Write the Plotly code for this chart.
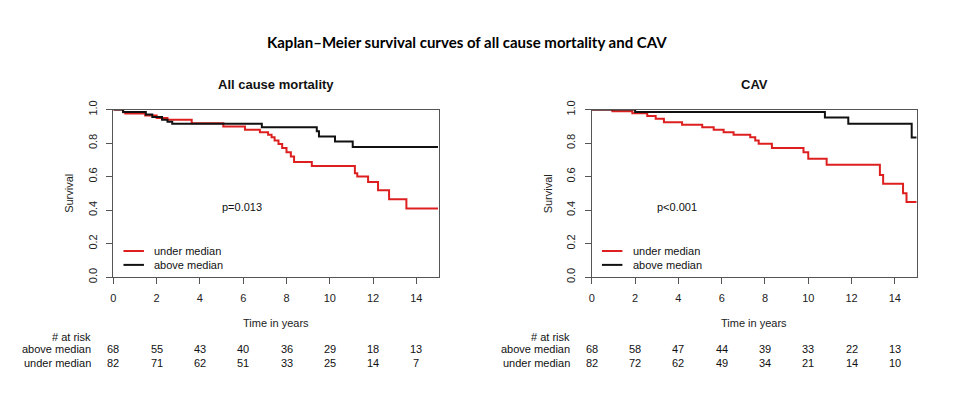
import plotly.graph_objects as go

# ---------------- data ----------------
# All cause mortality (left panel): step times (years) and survival after each step
acm_under_t = [0, 0.45, 0.55, 1.47, 2.0, 2.5, 3.62, 5.08, 6.08, 6.77, 7.15, 7.31, 7.45, 7.63, 7.8, 8.0, 8.2, 8.35, 9.17, 11.16, 11.27, 11.77, 12.23, 12.74, 13.54, 15.0]
acm_under_s = [1.0, 0.984, 0.976, 0.964, 0.950, 0.939, 0.919, 0.899, 0.879, 0.865, 0.850, 0.835, 0.815, 0.795, 0.77, 0.745, 0.72, 0.687, 0.663, 0.62, 0.60, 0.568, 0.519, 0.465, 0.41, 0.41]
acm_above_t = [0, 0.45, 1.5, 1.8, 2.25, 2.5, 2.72, 6.86, 9.4, 9.5, 10.24, 11.06, 15.0]
acm_above_s = [1.0, 0.985, 0.97, 0.955, 0.94, 0.928, 0.915, 0.895, 0.87, 0.84, 0.81, 0.776, 0.776]

# CAV (right panel)
cav_under_t = [0, 0.95, 1.87, 2.56, 2.95, 3.33, 4.17, 5.10, 5.63, 6.09, 6.55, 7.32, 7.55, 7.71, 8.32, 9.78, 10.0, 10.85, 13.31, 13.46, 14.38, 14.54, 15.0]
cav_under_s = [1.0, 0.99, 0.978, 0.962, 0.945, 0.925, 0.909, 0.895, 0.879, 0.865, 0.850, 0.835, 0.815, 0.796, 0.770, 0.746, 0.707, 0.671, 0.61, 0.558, 0.50, 0.449, 0.449]
cav_above_t = [0, 2.0, 10.77, 11.85, 14.78, 15.0]
cav_above_s = [1.0, 0.985, 0.952, 0.915, 0.834, 0.834]

risk_times = [0, 2, 4, 6, 8, 10, 12, 14]
acm_risk_above = [68, 55, 43, 40, 36, 29, 18, 13]
acm_risk_under = [82, 71, 62, 51, 33, 25, 14, 7]
cav_risk_above = [68, 58, 47, 44, 39, 33, 22, 13]
cav_risk_under = [82, 72, 62, 49, 34, 21, 14, 10]

x_ticks = [0, 2, 4, 6, 8, 10, 12, 14]
y_ticks = [0.0, 0.2, 0.4, 0.6, 0.8, 1.0]

panel_titles = ["All cause mortality", "CAV"]
p_values = ["p=0.013", "p<0.001"]
p_pos = [(5.94, 0.42), (3.93, 0.42)]
main_title = "Kaplan\u2013Meier survival curves of all cause mortality and CAV"

RED = "#dd1f1f"
BLACK = "#111111"
AXC = "#555555"
FONT = "Liberation Sans, Arial, sans-serif"

# page body has a margin; size the figure to fit the 960x397 window
W, H = 944, 381
OFFX = 10.0
OFFY, SY = 16.0, 0.965
fig = go.Figure()

# panel geometry (target screen pixels)
left_px = [112.7, 592.7]
right_px = [439.0, 919.0]
top_py, bot_py = 109.0, 277.3

def px2p(x):
    return (x - OFFX) / W

def py2p(y):
    return 1 - ((y - OFFY) / SY) / H

panels = [
    (acm_under_t, acm_under_s, acm_above_t, acm_above_s, acm_risk_above, acm_risk_under),
    (cav_under_t, cav_under_s, cav_above_t, cav_above_s, cav_risk_above, cav_risk_under),
]

annotations = []
shapes = []
for i, (ut, us, at, as_, ra, ru) in enumerate(panels):
    xa = "x" if i == 0 else "x2"
    ya = "y" if i == 0 else "y2"
    fig.add_trace(go.Scatter(x=ut, y=us, mode="lines", line=dict(color=RED, width=2, shape="hv"),
                             xaxis=xa, yaxis=ya, showlegend=False, name="under median"))
    fig.add_trace(go.Scatter(x=at, y=as_, mode="lines", line=dict(color=BLACK, width=2, shape="hv"),
                             xaxis=xa, yaxis=ya, showlegend=False, name="above median"))
    axkey = "" if i == 0 else "2"
    common = dict(showline=True, linecolor=AXC, linewidth=1, mirror=True, ticks="outside",
                  ticklen=6, tickcolor=AXC, showgrid=False, zeroline=False,
                  tickfont=dict(family=FONT, size=11, color="#222"))
    fig.update_layout({
        "xaxis" + axkey: dict(domain=[px2p(left_px[i]), px2p(right_px[i])], range=[0, 15.03],
                              tickvals=x_ticks, anchor=ya, ticklabelstandoff=5, **common),
        "yaxis" + axkey: dict(domain=[py2p(bot_py), py2p(top_py)], range=[0, 1.0],
                              tickvals=y_ticks, tickformat=".1f", tickangle=-90, anchor=xa,
                              ticklabelstandoff=5, **common),
    })
    # panel title
    cx = (left_px[i] + right_px[i]) / 2
    annotations.append(dict(text="<b>%s</b>" % panel_titles[i], x=px2p(cx), y=py2p(84), xref="paper", yref="paper",
                            showarrow=False, font=dict(family=FONT, size=13, color="#111"), xanchor="center", yanchor="middle"))
    # Survival label
    annotations.append(dict(text="Survival", x=px2p(left_px[i] - 44), y=py2p((top_py + bot_py) / 2), xref="paper", yref="paper",
                            showarrow=False, textangle=-90, font=dict(family=FONT, size=11, color="#222"),
                            xanchor="center", yanchor="middle"))
    # x title
    annotations.append(dict(text="Time in years", x=7.5, xref=xa, y=py2p(323.3), yref="paper",
                            showarrow=False, font=dict(family=FONT, size=11, color="#222"), xanchor="center", yanchor="middle"))
    # p-value
    annotations.append(dict(text=p_values[i], x=p_pos[i][0], y=p_pos[i][1], xref=xa, yref=ya, showarrow=False,
                            font=dict(family=FONT, size=11, color="#111"), xanchor="center", yanchor="middle"))
    # legend inside panel
    dxa = xa + " domain"
    dya = ya + " domain"
    for lab, col, yy in [("under median", RED, 0.156), ("above median", BLACK, 0.073)]:
        shapes.append(dict(type="line", xref=dxa, yref=dya, x0=0.031, x1=0.094, y0=yy, y1=yy,
                           line=dict(color=col, width=2)))
        annotations.append(dict(text=lab, x=0.12, y=yy, xref=dxa, yref=dya, showarrow=False, xanchor="left",
                                yanchor="middle", font=dict(family=FONT, size=11, color="#111")))
    # risk table
    rx = px2p(left_px[i] - 20)
    annotations.append(dict(text="# at risk", x=rx, y=py2p(337.3), xref="paper", yref="paper", showarrow=False,
                            xanchor="right", yanchor="middle", font=dict(family=FONT, size=11, color="#111")))
    annotations.append(dict(text="above median", x=rx, y=py2p(350.0), xref="paper", yref="paper", showarrow=False,
                            xanchor="right", yanchor="middle", font=dict(family=FONT, size=11, color="#111")))
    annotations.append(dict(text="under median", x=rx, y=py2p(363.3), xref="paper", yref="paper", showarrow=False,
                            xanchor="right", yanchor="middle", font=dict(family=FONT, size=11, color="#111")))
    for t, a, u in zip(risk_times, ra, ru):
        annotations.append(dict(text=str(a), x=t, xref=xa, y=py2p(350.0), yref="paper", showarrow=False,
                                xanchor="center", yanchor="middle", font=dict(family=FONT, size=11, color="#111")))
        annotations.append(dict(text=str(u), x=t, xref=xa, y=py2p(363.3), yref="paper", showarrow=False,
                                xanchor="center", yanchor="middle", font=dict(family=FONT, size=11, color="#111")))

annotations.append(dict(text="<b>%s</b>" % main_title, x=px2p(467), y=py2p(41), xref="paper", yref="paper",
                        showarrow=False, font=dict(family="Lato, Open Sans, sans-serif", size=15, color="#000"),
                        xanchor="center", yanchor="middle"))

fig.update_layout(width=W, height=H, margin=dict(l=0, r=0, t=0, b=0), paper_bgcolor="white",
                  plot_bgcolor="white", annotations=annotations, shapes=shapes, showlegend=False)

fig.write_html("out.html")
